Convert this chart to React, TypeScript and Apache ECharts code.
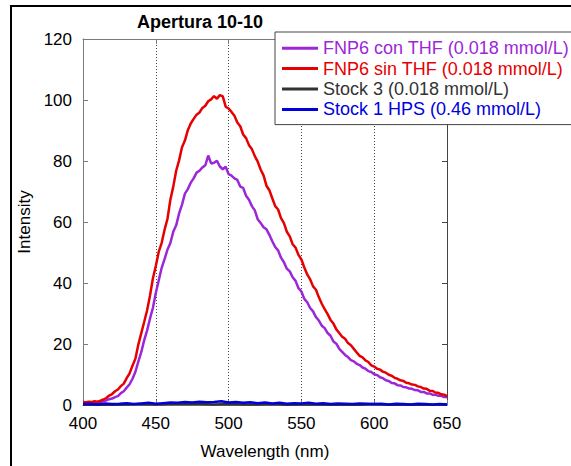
import React, { useEffect, useRef } from "react";
import * as echarts from "echarts";

const FONT = '"Liberation Sans", Arial, sans-serif';

const seriesNames = [
  "FNP6 con THF (0.018 mmol/L)",
  "FNP6 sin THF (0.018 mmol/L)",
  "Stock 3 (0.018 mmol/L)",
  "Stock 1 HPS (0.46 mmol/L)",
];
const seriesColors = ["#9b27d8", "#e60000", "#333333", "#0000dd"];

// Sampling grid of the two FNP6 spectra (nm)
const fnpStart = 400;
const fnpStep = 2;

const fnp6ConTHF = [
  0.6, 0.5, 0.7, 0.6, 0.8, 0.9, 1.0, 1.3, 1.5, 1.9,
  2.1, 2.6, 2.9, 3.9, 4.5, 5.7, 6.8, 8.6, 10.9, 14.2,
  17.3, 21.2, 24.4, 28.3, 31.8, 36.7, 40.8, 44.9, 47.8, 50.9,
  53.1, 56.8, 58.9, 62.8, 65.7, 69.3, 70.8, 72.9, 74.3, 76.2,
  76.8, 77.9, 78.6, 81.8, 79.2, 79.4, 80.1, 78.2, 77.3, 78.1,
  75.7, 75.2, 74.3, 73.8, 71.6, 71.2, 68.6, 67.3, 65.2, 63.8,
  60.9, 59.7, 58.3, 57.6, 55.8, 53.7, 51.8, 50.7, 48.3, 46.8,
  44.7, 43.8, 41.9, 40.7, 38.3, 37.2, 34.8, 33.7, 31.8, 30.7,
  28.8, 27.7, 26.0, 25.2, 23.6, 22.7, 20.8, 20.1, 18.4, 17.4,
  16.4, 15.7, 14.7, 14.3, 13.5, 13.1, 12.3, 11.9, 11.1, 10.8,
  10.1, 9.8, 9.1, 8.8, 8.1, 7.9, 7.2, 7.1, 6.5, 6.4,
  5.9, 5.8, 5.4, 5.3, 4.9, 4.8, 4.3, 4.3, 3.8, 3.8,
  3.4, 3.4, 3.0, 3.0, 2.6, 2.6,
];

const fnp6SinTHF = [
  1.0, 0.9, 1.1, 1.0, 1.2, 1.1, 1.4, 1.8, 2.3, 3.1,
  3.6, 4.5, 5.1, 6.2, 7.0, 8.8, 10.4, 12.9, 15.2, 19.8,
  23.5, 27.2, 31.0, 35.8, 41.5, 45.6, 50.2, 53.1, 57.4, 61.0,
  67.3, 71.6, 76.8, 80.2, 84.5, 86.7, 90.1, 92.3, 93.8, 95.2,
  95.9, 97.4, 98.1, 99.6, 100.2, 101.3, 100.4, 101.6, 101.2, 97.8,
  97.2, 96.1, 94.8, 92.6, 91.4, 88.7, 87.5, 85.2, 83.9, 81.6,
  79.8, 77.2, 75.3, 71.9, 70.4, 67.8, 65.2, 64.1, 61.3, 59.6,
  56.8, 55.3, 52.7, 51.6, 49.2, 47.7, 45.1, 42.8, 41.2, 38.9,
  37.8, 35.3, 33.2, 31.4, 29.8, 27.9, 26.7, 24.8, 23.6, 22.4,
  21.7, 20.3, 19.6, 18.4, 17.2, 16.1, 15.6, 14.6, 14.1, 13.0,
  12.6, 11.9, 11.6, 10.9, 10.6, 9.9, 9.6, 8.9, 8.6, 8.1,
  7.9, 7.3, 7.1, 6.7, 6.6, 6.1, 5.9, 5.4, 5.3, 4.7,
  4.6, 4.1, 4.0, 3.5, 3.4, 2.9,
];

// Stock 3 sampled every 10 nm from 400
const stock3Start = 400;
const stock3Step = 10;
const stock3 = [
  0.1, 0.2, 0.1, 0.2, 0.3, 0.2, 0.3, 0.4, 0.3, 0.2,
  0.3, 0.2, 0.2, 0.3, 0.1, 0.2, 0.2, 0.1, 0.2, 0.1,
  0.3, 0.1, 0.2, 0.1, 0.1, 0.2,
];

// Stock 1 HPS sampled every 5 nm from 400
const stock1Start = 400;
const stock1Step = 5;
const stock1HPS = [
  0.3, 0.4, 0.2, 0.5, 0.3, 0.4, 0.6, 0.3, 0.5, 0.7,
  0.4, 0.6, 0.8, 0.7, 1.0, 0.8, 1.1, 0.9, 1.0, 1.2,
  0.8, 1.0, 0.7, 0.9, 0.6, 0.8, 0.5, 0.7, 0.4, 0.6,
  0.5, 0.7, 0.4, 0.6, 0.3, 0.5, 0.4, 0.3, 0.5, 0.4,
  0.3, 0.4, 0.2, 0.4, 0.3, 0.2, 0.4, 0.3, 0.2, 0.3,
  0.2,
];

const toPairs = (vals: number[], start: number, step: number) =>
  vals.map((v, i) => [start + i * step, v]);

const seriesData = [
  toPairs(fnp6ConTHF, fnpStart, fnpStep),
  toPairs(fnp6SinTHF, fnpStart, fnpStep),
  toPairs(stock3, stock3Start, stock3Step),
  toPairs(stock1HPS, stock1Start, stock1Step),
];

const axisGrey = "#7a7a7a";

export default function App() {
  const ref = useRef<HTMLDivElement>(null);
  useEffect(() => {
    const chart = echarts.init(ref.current!, null, { renderer: "svg" });
    chart.setOption({
      animation: false,
      backgroundColor: "#fff",
      textStyle: { fontFamily: FONT },
      grid: { left: 83, right: 124, top: 39, bottom: 61, containLabel: false },
      xAxis: [
        {
          type: "value",
          min: 400,
          max: 650,
          interval: 50,
          position: "bottom",
          name: "Wavelength (nm)",
          nameLocation: "middle",
          nameGap: 38,
          nameTextStyle: { fontSize: 17, color: "#000", fontFamily: FONT },
          axisLine: { show: true, onZero: false, lineStyle: { color: axisGrey, width: 1 } },
          axisTick: { show: true, inside: true, length: 5, lineStyle: { color: axisGrey } },
          axisLabel: { fontSize: 17, color: "#000", margin: 10, fontFamily: FONT },
          splitLine: { show: true, lineStyle: { type: [1, 2], color: "#444", width: 1 } },
        },
        {
          type: "value",
          min: 400,
          max: 650,
          interval: 50,
          position: "top",
          axisLine: { show: true, onZero: false, lineStyle: { color: axisGrey, width: 1 } },
          axisTick: { show: true, inside: true, length: 5, lineStyle: { color: axisGrey } },
          axisLabel: { show: false },
          splitLine: { show: false },
        },
      ],
      yAxis: [
        {
          type: "value",
          min: 0,
          max: 120,
          interval: 20,
          position: "left",
          name: "Intensity",
          nameLocation: "middle",
          nameGap: 44,
          nameTextStyle: { fontSize: 17, color: "#000", fontFamily: FONT },
          axisLine: { show: true, onZero: false, lineStyle: { color: axisGrey, width: 1 } },
          axisTick: { show: true, inside: true, length: 5, lineStyle: { color: axisGrey } },
          axisLabel: { fontSize: 17, color: "#000", margin: 11, fontFamily: FONT },
          splitLine: { show: false },
        },
        {
          type: "value",
          min: 0,
          max: 120,
          interval: 20,
          position: "right",
          axisLine: { show: true, onZero: false, lineStyle: { color: "#444", width: 1 } },
          axisTick: { show: true, inside: true, length: 5, lineStyle: { color: "#444" } },
          axisLabel: { show: false },
          splitLine: { show: false },
        },
      ],
      legend: {
        orient: "vertical",
        left: 275,
        top: 32,
        padding: [6, 10, 5, 7],
        itemGap: 0,
        itemWidth: 36,
        itemHeight: 3,
        icon: "rect",
        borderColor: "#444",
        borderWidth: 1,
        backgroundColor: "#fff",
        z: 10,
        textStyle: { fontSize: 18, lineHeight: 20.4, fontFamily: FONT },
        data: seriesNames.map((n, i) => ({ name: n, textStyle: { color: seriesColors[i] } })),
      },
      graphic: [
        {
          type: "text",
          x: 200,
          y: 22,
          style: {
            text: "Apertura 10-10",
            fontSize: 18,
            fontWeight: "bold",
            fontFamily: FONT,
            fill: "#000",
            align: "center",
            verticalAlign: "middle",
          },
        },
        {
          type: "line",
          shape: { x1: 10, y1: 6, x2: 571, y2: 6 },
          style: { stroke: "#000", lineWidth: 2 },
        },
        {
          type: "line",
          shape: { x1: 11, y1: 6, x2: 11, y2: 466 },
          style: { stroke: "#000", lineWidth: 2 },
        },
      ],
      series: seriesNames.map((n, i) => ({
        name: n,
        type: "line",
        xAxisIndex: 0,
        yAxisIndex: 0,
        data: seriesData[i],
        showSymbol: false,
        symbol: "none",
        color: seriesColors[i],
        lineStyle: { color: seriesColors[i], width: 2.5 },
        emphasis: { disabled: true },
      })),
    });
    return () => chart.dispose();
  }, []);
  return (
    <div
      ref={ref}
      style={{ position: "fixed", left: 0, top: 0, width: 571, height: 466, background: "#fff" }}
    />
  );
}
